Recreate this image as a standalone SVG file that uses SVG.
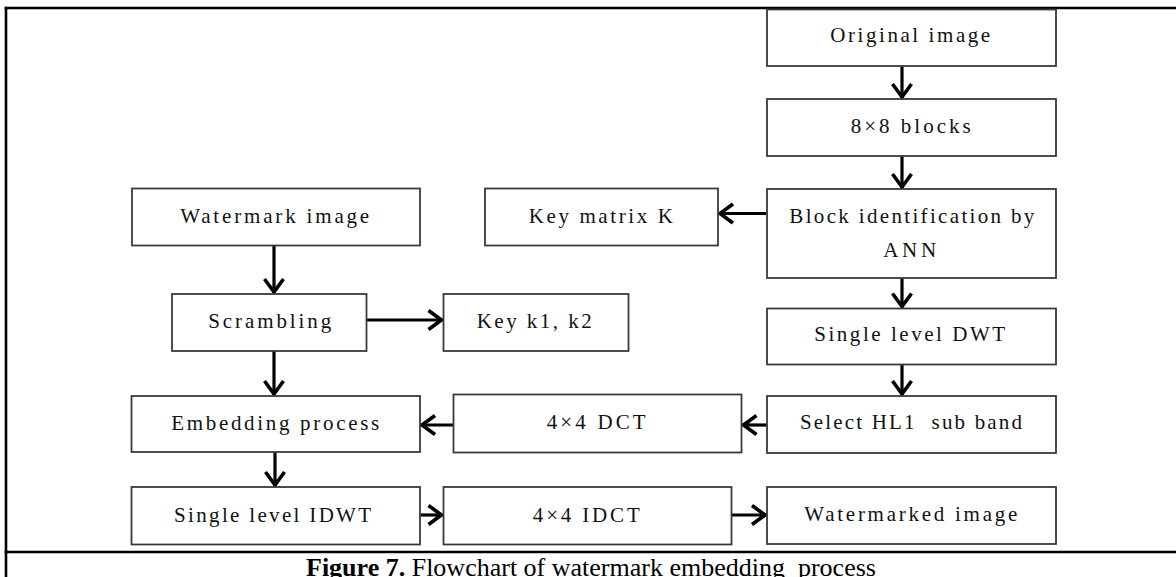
<svg xmlns="http://www.w3.org/2000/svg" width="1176" height="577" viewBox="0 0 1176 577">
  <style>
    .box { fill: #ffffff; stroke: #3a3a3a; stroke-width: 1.8; }
    .lbl { font-family: "Liberation Serif", "Times New Roman", serif; font-size: 21px; fill: #111111; text-anchor: middle; }
    .conn { stroke: #000000; stroke-width: 3.2; fill: none; marker-end: url(#chev); }
    .frame { stroke: #000000; stroke-width: 2.6; fill: none; }
    .cap { font-family: "Liberation Serif", "Times New Roman", serif; font-size: 26px; fill: #000000; }
  </style>
  <defs>
    <marker id="chev" markerUnits="userSpaceOnUse" viewBox="-20 -13 24 26" refX="0" refY="0" markerWidth="24" markerHeight="26" orient="auto">
      <path d="M-14,-9.5 L-1,0 L-14,9.5" fill="none" stroke="#000000" stroke-width="3.6" stroke-linejoin="miter"/>
    </marker>
  </defs>
  <rect width="1176" height="577" fill="#ffffff"/>

  <g id="frame">
    <line class="frame" x1="6" y1="6.7" x2="6" y2="577"/>
    <line class="frame" x1="4.7" y1="8" x2="1176" y2="8"/>
    <line class="frame" x1="4.7" y1="552" x2="1176" y2="552"/>
  </g>

  <g id="connectors">
    <line class="conn" x1="902" y1="66" x2="902" y2="98"/>
    <line class="conn" x1="902" y1="156" x2="902" y2="188"/>
    <line class="conn" x1="902" y1="278" x2="902" y2="307.5"/>
    <line class="conn" x1="902" y1="364.5" x2="902" y2="395"/>
    <line class="conn" x1="767" y1="213.5" x2="719" y2="213.5"/>
    <line class="conn" x1="274" y1="245.5" x2="274" y2="293"/>
    <line class="conn" x1="366.5" y1="320" x2="442.5" y2="320"/>
    <line class="conn" x1="274" y1="351" x2="274" y2="395"/>
    <line class="conn" x1="767" y1="425" x2="742.5" y2="425"/>
    <line class="conn" x1="453.5" y1="425" x2="421" y2="425"/>
    <line class="conn" x1="275" y1="452" x2="275" y2="486"/>
    <line class="conn" x1="420" y1="515" x2="442.5" y2="515"/>
    <line class="conn" x1="731.5" y1="515" x2="766" y2="515"/>
  </g>

  <g id="original-image">
    <rect class="box" x="767" y="9.5" width="289" height="56.5"/>
    <text class="lbl" x="910.2" y="42" textLength="160" lengthAdjust="spacing">Original image</text>
  </g>
  <g id="blocks-8x8">
    <rect class="box" x="767" y="99" width="289" height="57"/>
    <text class="lbl" x="910.7" y="133" textLength="120" lengthAdjust="spacing">8×8 blocks</text>
  </g>
  <g id="block-identification">
    <rect class="box" x="767" y="189" width="289" height="89"/>
    <text class="lbl" x="911.8" y="223" textLength="245" lengthAdjust="spacing">Block identification by</text>
    <text class="lbl" x="909.7" y="257" textLength="53" lengthAdjust="spacing">ANN</text>
  </g>
  <g id="single-level-dwt">
    <rect class="box" x="767" y="308.5" width="289" height="56"/>
    <text class="lbl" x="909.7" y="341" textLength="191" lengthAdjust="spacing">Single level DWT</text>
  </g>
  <g id="select-hl1">
    <rect class="box" x="767" y="396" width="289" height="57"/>
    <text class="lbl" x="911" y="429" textLength="222" lengthAdjust="spacing" style="white-space:pre">Select HL1  sub band</text>
  </g>
  <g id="watermarked-image">
    <rect class="box" x="767" y="487" width="289" height="57"/>
    <text class="lbl" x="910.8" y="521" textLength="213" lengthAdjust="spacing">Watermarked image</text>
  </g>
  <g id="key-matrix">
    <rect class="box" x="485" y="188.5" width="233" height="57"/>
    <text class="lbl" x="600.8" y="223" textLength="144" lengthAdjust="spacing">Key matrix K</text>
  </g>
  <g id="watermark-image">
    <rect class="box" x="132" y="188.5" width="288" height="57"/>
    <text class="lbl" x="274.7" y="223" textLength="189" lengthAdjust="spacing">Watermark image</text>
  </g>
  <g id="scrambling">
    <rect class="box" x="172" y="294" width="194.5" height="57"/>
    <text class="lbl" x="269.7" y="327.5" textLength="123" lengthAdjust="spacing">Scrambling</text>
  </g>
  <g id="key-k1-k2">
    <rect class="box" x="443.5" y="294" width="185" height="57"/>
    <text class="lbl" x="534.2" y="328" textLength="115" lengthAdjust="spacing">Key k1, k2</text>
  </g>
  <g id="embedding-process">
    <rect class="box" x="131.5" y="396" width="288.5" height="56"/>
    <text class="lbl" x="275.2" y="429.5" textLength="208" lengthAdjust="spacing">Embedding process</text>
  </g>
  <g id="dct-4x4">
    <rect class="box" x="453.5" y="394.5" width="288" height="58"/>
    <text class="lbl" x="596.2" y="429" textLength="99" lengthAdjust="spacing">4×4 DCT</text>
  </g>
  <g id="single-level-idwt">
    <rect class="box" x="131.5" y="487" width="288.5" height="57.5"/>
    <text class="lbl" x="272.6" y="521.5" textLength="197" lengthAdjust="spacing">Single level IDWT</text>
  </g>
  <g id="idct-4x4">
    <rect class="box" x="443.5" y="487" width="288" height="57.5"/>
    <text class="lbl" x="586.3" y="522" textLength="107" lengthAdjust="spacing">4×4 IDCT</text>
  </g>

  <g id="caption">
    <text class="cap" x="306" y="576" style="white-space:pre"><tspan font-weight="bold">Figure 7.</tspan> Flowchart of watermark embedding  process</text>
  </g>
</svg>
